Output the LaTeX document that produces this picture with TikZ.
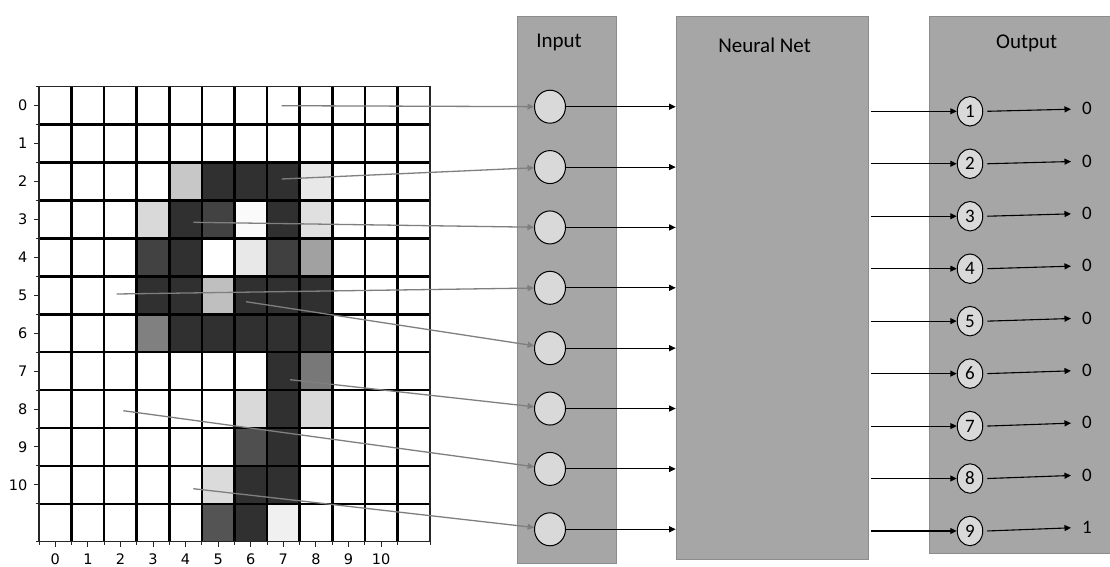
\documentclass[tikz,border=0pt]{standalone}
\usepackage{fontspec}
\setmainfont{Carlito}
\newfontfamily\axisfont{DejaVu Sans}
\usetikzlibrary{arrows.meta,shapes.geometric}

\definecolor{panelfill}{HTML}{A6A6A6}
\definecolor{paneledge}{HTML}{8C8C8C}
\definecolor{nodefill}{HTML}{D9D9D9}
\definecolor{feedgray}{HTML}{7F7F7F}

\begin{document}
\begin{tikzpicture}[x=1pt,y=-1pt,
  panel/.style={draw=paneledge, fill=panelfill, line width=0.9pt, anchor=north west, inner sep=0pt},
  title/.style={font=\fontsize{21}{25}\selectfont, anchor=base, inner sep=0pt},
  innode/.style={ellipse, draw=black, fill=nodefill, line width=1pt, minimum width=31pt, minimum height=33pt, inner sep=0pt},
  outnode/.style={ellipse, draw=black, fill=nodefill, line width=1pt, minimum width=25.5pt, minimum height=29.5pt, inner sep=0pt, font=\fontsize{19}{21}\selectfont},
  value/.style={font=\fontsize{19}{21}\selectfont, inner xsep=11pt, inner ysep=0pt},
  feed/.style={draw=feedgray, line width=1.3pt, -{Triangle[length=6.5pt,width=6pt]}},
  wire/.style={draw=black, line width=1.1pt, -{Triangle[length=6.5pt,width=6pt]}},
  axislabel/.style={font=\axisfont\fontsize{14.5}{16}\selectfont, inner sep=0pt},
  tick/.style={line width=0.9pt, black!85},
]
\useasboundingbox (0,0) rectangle (1110,567);
\clip (0,0) rectangle (1110,567);

% ---------- pixel image of the digit ----------
\def\gx{39} \def\gy{86.7} \def\cw{32.58} \def\rh{37.92}
\fill[white] (\gx,\gy) rectangle ({\gx+12*\cw},{\gy+12*\rh});
\foreach \r/\c/\g in {2/5/0.19,2/6/0.19,2/7/0.19,3/4/0.19,3/7/0.19,4/4/0.19,
    5/3/0.19,5/4/0.19,5/6/0.19,5/7/0.19,5/8/0.19,6/4/0.19,6/5/0.19,6/6/0.19,
    6/7/0.19,6/8/0.19,7/7/0.19,8/7/0.19,9/7/0.19,10/6/0.19,10/7/0.19,11/6/0.19,
    2/4/0.78,2/8/0.91,3/3/0.85,3/5/0.26,3/6/0.98,3/8/0.88,4/3/0.26,4/6/0.91,
    4/7/0.25,4/8/0.63,5/5/0.75,6/3/0.5,7/8/0.47,8/6/0.85,8/8/0.85,9/6/0.31,
    10/5/0.86,11/5/0.33,11/7/0.94}{
  \definecolor{cellc}{gray}{\g}
  \fill[cellc] ({\gx+\c*\cw},{\gy+\r*\rh}) rectangle ({\gx+(\c+1)*\cw},{\gy+(\r+1)*\rh});
}
\foreach \k in {1,...,11}{
  \draw[line width=2.6pt] ({\gx+\k*\cw},\gy) -- ({\gx+\k*\cw},{\gy+12*\rh});
  \draw[line width=2.6pt] (\gx,{\gy+\k*\rh}) -- ({\gx+12*\cw},{\gy+\k*\rh});
}
\draw[line width=1.1pt, black!85] (\gx,\gy) rectangle ({\gx+12*\cw},{\gy+12*\rh});

% axis ticks and labels
\foreach \k in {0,...,12}{
  \draw[tick] ({\gx-3},{\gy+\k*\rh}) -- (\gx,{\gy+\k*\rh});
  \draw[tick] ({\gx+\k*\cw},{\gy+12*\rh}) -- ({\gx+\k*\cw},{\gy+12*\rh+2.8});
}
\foreach \k in {0,...,10}{
  \draw[tick] ({\gx-4.7},{\gy+(\k+0.5)*\rh}) -- (\gx,{\gy+(\k+0.5)*\rh});
  \draw[tick] ({\gx+(\k+0.5)*\cw},{\gy+12*\rh}) -- ({\gx+(\k+0.5)*\cw},{\gy+12*\rh+4.8});
  \node[axislabel, anchor=east] (ylab\k) at (27.5,{\gy+(\k+0.5)*\rh}) {\k};
  \node[axislabel] (xlab\k) at ({\gx+(\k+0.5)*\cw},559.6) {\k};
}

% sampled pixels
\coordinate (p1) at (281.7,105.7);
\coordinate (p2) at (281.7,179);
\coordinate (p3) at (193.3,222.3);
\coordinate (p4) at (116.7,294);
\coordinate (p5) at (246,301.7);
\coordinate (p6) at (290,379.7);
\coordinate (p7) at (123.3,410.7);
\coordinate (p8) at (193.3,488.7);

% ---------- panels ----------
\node[panel, minimum width=98.7pt, minimum height=547.6pt] (inpanel) at (517.3,15.7) {};
\node[title] (intitle) at (559,47.3) {Input};
\node[panel, minimum width=192.3pt, minimum height=543.3pt] (nn) at (675.7,15.7) {};
\node[title] (nntitle) at (764.5,52.3) {Neural Net};
\node[panel, minimum width=200pt, minimum height=537.6pt] (outpanel) at (929,15.7) {};
\node[title] (outtitle) at (1026.7,48.3) {Output};

% input neurons
\foreach \i in {1,...,8}
  \node[innode] (cin\i) at (550,{106.7+(\i-1)*60.37}) {};

% output neurons and their values
\foreach \i in {1,...,9}
  \node[outnode] (cout\i) at (970,{111.3+(\i-1)*52.46}) {\i};
\foreach \i/\v in {1/0,2/0,3/0,4/0,5/0,6/0,7/0,8/0,9/1}
  \node[value] (val\i) at (1087,{108.8+(\i-1)*52.3}) {\v};

% ---------- connectors ----------
\foreach \i in {1,...,8}{
  \draw[feed] (p\i) -- (cin\i);
  \draw[wire] (cin\i.east) -- (nn.west |- cin\i);
}
\foreach \i in {1,...,9}{
  \draw[wire] ([xshift=2pt]nn.east |- cout\i) -- (cout\i.west);
  \draw[wire] ([xshift=4pt]cout\i.east) -- (val\i);
}
\end{tikzpicture}
\end{document}
